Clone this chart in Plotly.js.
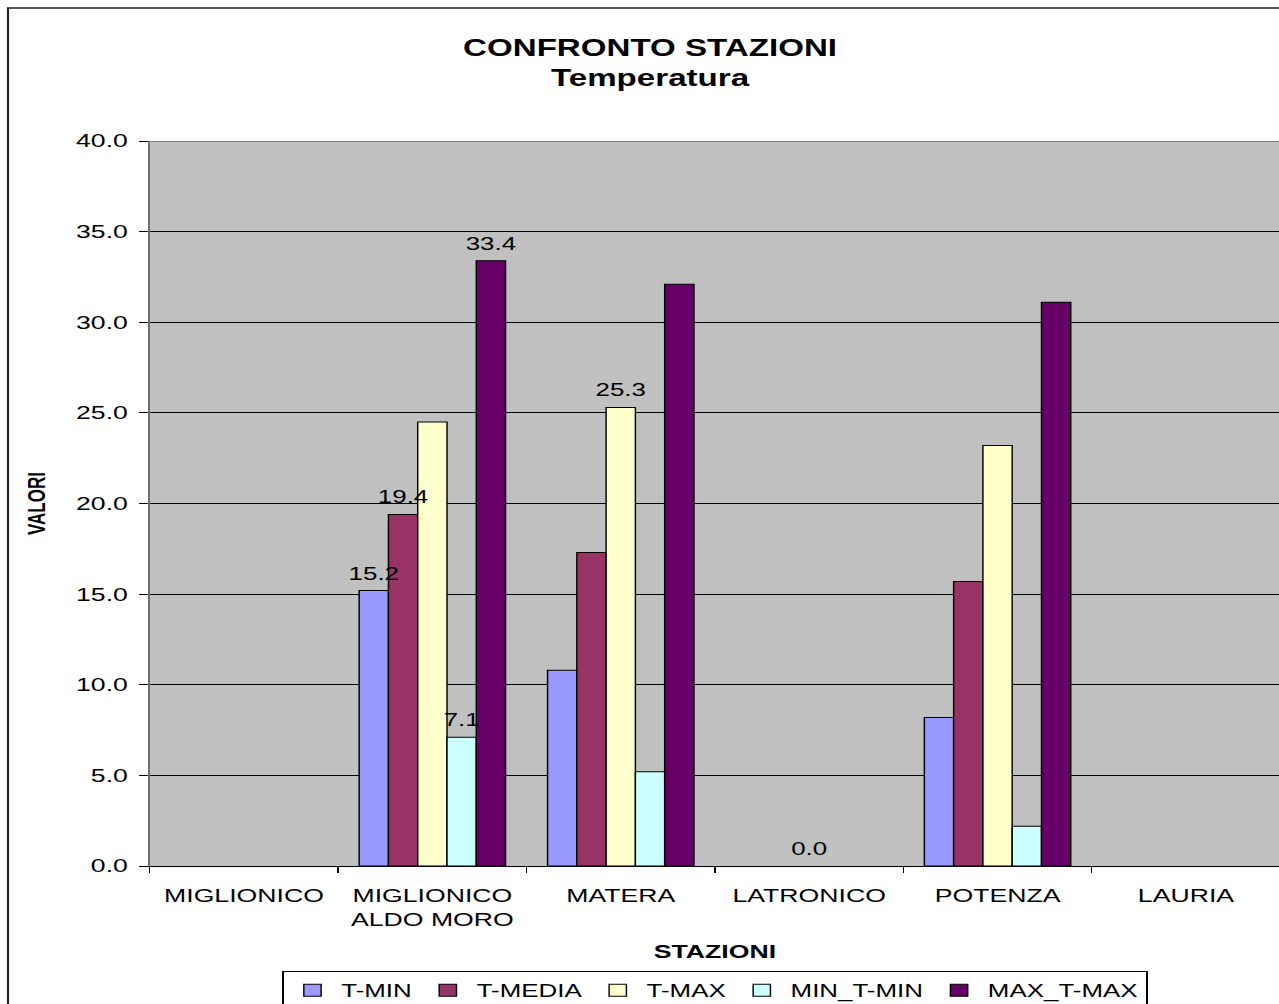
<!DOCTYPE html>
<html>
<head>
<meta charset="utf-8">
<script src="https://cdn.plot.ly/plotly-3.0.1.min.js"></script>
<style>
  html, body { margin: 0; padding: 0; background: #fff; overflow: hidden; }
  #wrap { width: 1279px; height: 1004px; overflow: hidden; position: relative; }
  #chart { width: 889px; height: 1004px; transform: scaleX(1.44); transform-origin: 0 0; }
</style>
</head>
<body>
<div id="wrap"><div id="chart"></div></div>
<script>
// ---- data ----
const categories = ['MIGLIONICO', 'MIGLIONICO<br>ALDO MORO', 'MATERA', 'LATRONICO', 'POTENZA', 'LAURIA'];
const seriesNames = ['T-MIN', 'T-MEDIA', 'T-MAX', 'MIN_T-MIN', 'MAX_T-MAX'];
const tMin     = [null, 15.2, 10.8, null, 8.2, null];
const tMedia   = [null, 19.4, 17.3, null, 15.7, null];
const tMax     = [null, 24.5, 25.3, 0.0, 23.2, null];
const minTMin  = [null, 7.1, 5.2, null, 2.2, null];
const maxTMax  = [null, 33.4, 32.1, null, 31.1, null];
// data labels shown in the chart
const lblTMin    = ['', '15.2', '', '', '', ''];
const lblTMedia  = ['', '19.4', '', '', '', ''];
const lblTMax    = ['', '', '25.3', '0.0', '', ''];
const lblMinTMin = ['', '7.1', '', '', '', ''];
const lblMaxTMax = ['', '33.4', '', '', '', ''];
const yTickVals  = [0, 5, 10, 15, 20, 25, 30, 35, 40];

const colors = ['#9999FF', '#993366', '#FFFFCC', '#CCFFFF', '#660066'];
const values = [tMin, tMedia, tMax, minTMin, maxTMax];
const labels = [lblTMin, lblTMedia, lblTMax, lblMinTMin, lblMaxTMax];

const FONT = 'Liberation Sans, Arial, Helvetica, sans-serif';

// bars
const barTraces = seriesNames.map((name, i) => ({
  type: 'bar',
  name: name,
  x: categories,
  y: values[i],
  marker: {
    color: colors[i],
    line: { color: '#000', width: values[i].map(v => (v === 0 ? 0 : 1)) }
  },
  hoverinfo: 'x+y+name'
}));

// data labels, drawn on an overlaid subplot so they sit above every bar
const labelTraces = seriesNames.map((name, i) => ({
  type: 'bar',
  name: name,
  x: categories,
  y: values[i],
  xaxis: 'x2',
  yaxis: 'y2',
  showlegend: false,
  text: labels[i],
  textposition: 'outside',
  constraintext: 'none',
  cliponaxis: false,
  textfont: { family: FONT, size: 18, color: '#000' },
  marker: { color: 'rgba(0,0,0,0)', line: { width: 0 } },
  hoverinfo: 'skip'
}));

const layout = {
  width: 889,
  height: 1004,
  margin: { l: 104, r: 0, t: 141, b: 138, autoexpand: false },
  paper_bgcolor: '#fff',
  plot_bgcolor: '#C0C0C0',
  font: { family: FONT, color: '#000', size: 18 },
  barmode: 'group',
  bargap: 0.223,
  bargroupgap: 0,
  showlegend: true,
  title: {
    text: '<b>CONFRONTO STAZIONI</b><br><b>Temperatura</b>',
    font: { family: FONT, size: 23, color: '#000' },
    xref: 'container', x: 0.5078, xanchor: 'center',
    yref: 'container', y: 0.944, yanchor: 'top'
  },
  xaxis: {
    type: 'category',
    tickson: 'boundaries',
    ticks: 'outside', ticklen: 6, tickcolor: '#000', tickwidth: 1,
    showline: true, linecolor: '#000', linewidth: 1,
    showgrid: false,
    tickfont: { family: FONT, size: 18.5, color: '#000' },
    ticklabelstandoff: 13,
    title: { text: '<b>STAZIONI</b>', font: { family: FONT, size: 18.5, color: '#000' }, standoff: 15 },
    automargin: false,
    fixedrange: true
  },
  yaxis: {
    range: [0, 40],
    tickvals: yTickVals,
    tickformat: '.1f',
    ticks: 'outside', ticklen: 6, tickcolor: '#000', tickwidth: 1,
    showline: true, linecolor: '#707070', linewidth: 1.5,
    showgrid: true, gridcolor: '#000', gridwidth: 1,
    zeroline: false,
    tickfont: { family: FONT, size: 18.5, color: '#000' },
    ticklabelstandoff: 4,
    title: { text: '<b>VALORI</b>', font: { family: FONT, size: 17, color: '#000' }, standoff: 16 },
    automargin: false,
    fixedrange: true
  },
  xaxis2: {
    type: 'category',
    overlaying: 'x',
    visible: false,
    fixedrange: true
  },
  yaxis2: {
    overlaying: 'y',
    range: [-0.22, 39.78],
    visible: false,
    fixedrange: true
  },
  legend: {
    orientation: 'h',
    x: 0.5, xanchor: 'center',
    y: -0.145, yanchor: 'top',
    bgcolor: '#fff',
    bordercolor: '#000', borderwidth: 1,
    font: { family: FONT, size: 18, color: '#000' },
    itemwidth: 30,
    traceorder: 'normal'
  },
  shapes: [
    { type: 'line', xref: 'paper', yref: 'y', x0: 0, x1: 1, y0: 40, y1: 40,
      line: { color: '#808080', width: 2 }, layer: 'above' },
    { type: 'rect', xref: 'paper', yref: 'paper', x0: -0.1254, x1: 1.3, y0: -0.5, y1: 1.1834,
      line: { color: '#222', width: 1.5 }, fillcolor: 'rgba(0,0,0,0)', layer: 'above' }
  ]
};

Plotly.newPlot('chart', barTraces.concat(labelTraces), layout, { displayModeBar: false, staticPlot: true });
</script>
</body>
</html>
